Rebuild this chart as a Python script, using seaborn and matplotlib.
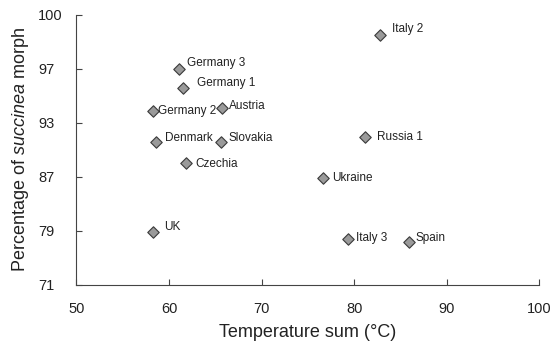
import numpy as np
import pandas as pd
import matplotlib
matplotlib.use("Agg")
import matplotlib.pyplot as plt
import seaborn as sns

# ---- data ----
sites = ["Germany 3", "Germany 1", "Germany 2", "Austria", "Denmark", "Slovakia",
         "Czechia", "UK", "Italy 2", "Russia 1", "Ukraine", "Italy 3", "Spain"]
temp_sum = [61.1, 61.5, 58.3, 65.7, 58.6, 65.6, 61.8, 58.3, 82.8, 81.2, 76.6, 79.3, 85.9]
pct_succinea = [97.0, 95.6, 93.9, 94.1, 90.9, 90.85, 88.6, 78.9, 98.9, 91.4, 86.8, 77.8, 77.3]
y_ticks = [71, 79, 87, 93, 97, 100]
x_ticks = [50, 60, 70, 80, 90, 100]
# label offsets in pixels (dx, dy)
label_offsets = [(8, 6), (14, 5), (5, 0), (7, 2), (9, 4), (8, 4),
                 (10, -1), (11, 5), (12, 6), (12, 0), (9, 0), (8, 1), (7, 4)]

df = pd.DataFrame({"site": sites, "temp": temp_sum, "pct": pct_succinea})

sns.set_style("ticks")
plt.rcParams["font.family"] = ["Liberation Sans", "DejaVu Sans"]
plt.rcParams["mathtext.fontset"] = "custom"
plt.rcParams["mathtext.rm"] = "Liberation Sans"
plt.rcParams["mathtext.it"] = "Liberation Sans:italic"

fig = plt.figure(figsize=(5.54, 3.47), dpi=100)
ax = fig.add_axes([0.138, 0.1787, 0.8355, 0.7781])

idx = np.arange(len(y_ticks), dtype=float)
def fwd(v):
    return np.interp(v, y_ticks, idx, left=-1e3, right=1e3)
def inv(v):
    return np.interp(v, idx, y_ticks)
ax.set_yscale("function", functions=(fwd, inv))

sns.scatterplot(data=df, x="temp", y="pct", marker="D", s=34, color="#9a9a9a",
                edgecolor="#3a3a3a", linewidth=0.8, ax=ax, zorder=3)

for name, xv, yv, (dx, dy) in zip(sites, temp_sum, pct_succinea, label_offsets):
    ax.annotate(name, (xv, yv), xytext=(dx, dy), textcoords="offset pixels",
                ha="left", va="center", fontsize=8.5, color="#222222")

ax.set_xlim(50, 100)
ax.set_ylim(71, 100)
ax.set_xticks(x_ticks)
ax.set_yticks(y_ticks)
ax.set_yticklabels([str(t) for t in y_ticks])
ax.yaxis.set_minor_locator(matplotlib.ticker.NullLocator())
ax.tick_params(axis="both", direction="in", length=4.5, width=0.8, color="#444444",
               labelsize=10.5, labelcolor="#222222")
ax.tick_params(axis="x", pad=12)
ax.tick_params(axis="y", pad=27.5)
for lab in ax.get_yticklabels():
    lab.set_horizontalalignment("left")
for side in ["top", "right"]:
    ax.spines[side].set_visible(False)
for side in ["left", "bottom"]:
    ax.spines[side].set_color("#444444")
    ax.spines[side].set_linewidth(0.8)

ax.set_xlabel("Temperature sum (°C)", fontsize=13, color="#222222", labelpad=6)
ax.set_ylabel(r"Percentage of $\it{succinea}$ morph", fontsize=13, color="#222222", labelpad=5)

fig.savefig("out.png", dpi=100)
